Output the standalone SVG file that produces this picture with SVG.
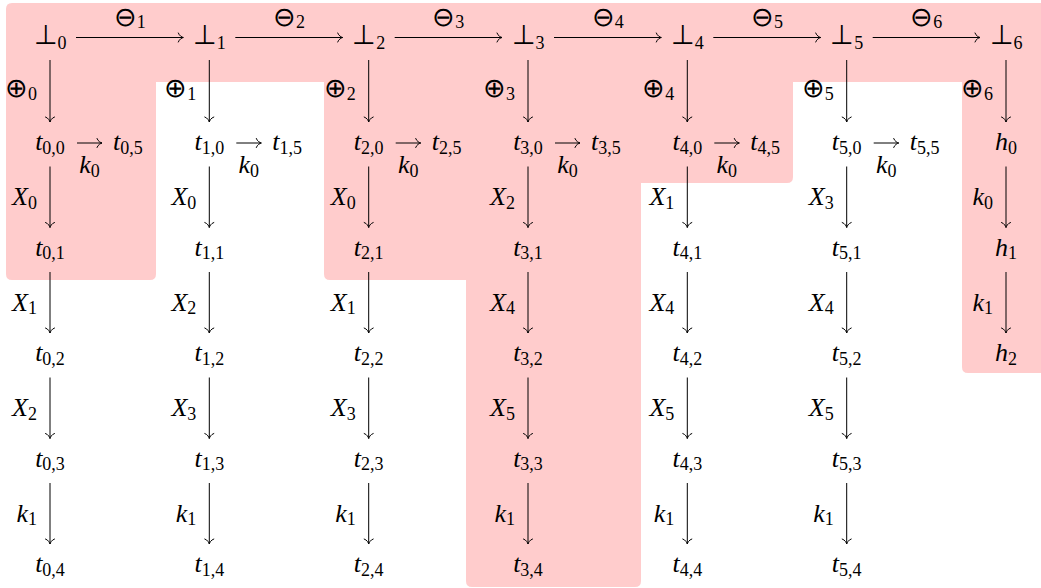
<svg xmlns="http://www.w3.org/2000/svg" width="1041" height="588" viewBox="0 0 1041 588">
<style>
.m{font-family:"Liberation Serif","Times New Roman",serif;font-style:italic;font-size:26px;fill:#000}
.s{font-style:normal;font-size:18px}
.sym{font-family:"DejaVu Sans",sans-serif;font-style:normal;font-weight:200;font-size:27px}
.c{text-anchor:middle}
.e{text-anchor:end}
.ln{stroke:#000;stroke-width:1;fill:none;marker-end:url(#arr)}
</style>
<defs>
<marker id="arr" viewBox="-7 -6 8 12" refX="0" refY="0" markerWidth="8" markerHeight="12" orient="auto" markerUnits="userSpaceOnUse">
<path d="M-5,-4.5 C-4,-1.5 -1.2,-0.4 0,0 C-1.2,0.4 -4,1.5 -5,4.5" fill="none" stroke="#000" stroke-width="1" stroke-linecap="round"/>
</marker>
</defs>
<rect width="1041" height="588" fill="#fff"/>
<path id="highlight" fill="#ffcccc" d="M6,9 Q6,3 12,3 H1046 V373 H968 Q962,373 962,367 V82 H793 V177 Q793,183 787,183 H641 V581 Q641,587 635,587 H472 Q466,587 466,581 V280 H330 Q324,280 324,274 V82 H156 V274 Q156,280 150,280 H12 Q6,280 6,274 Z"/>

<g id="connectors">
<line class="ln" x1="76" y1="37.5" x2="183.3" y2="37.5"/>
<line class="ln" x1="235.3" y1="37.5" x2="342.7" y2="37.5"/>
<line class="ln" x1="394.7" y1="37.5" x2="502" y2="37.5"/>
<line class="ln" x1="554" y1="37.5" x2="661.3" y2="37.5"/>
<line class="ln" x1="713.3" y1="37.5" x2="820.7" y2="37.5"/>
<line class="ln" x1="872.7" y1="37.5" x2="980" y2="37.5"/>
<text class="m c" x="129.7" y="26"><tspan class="sym">⊖</tspan><tspan class="s" dy="2">1</tspan></text>
<text class="m c" x="289" y="26"><tspan class="sym">⊖</tspan><tspan class="s" dy="2">2</tspan></text>
<text class="m c" x="448.3" y="26"><tspan class="sym">⊖</tspan><tspan class="s" dy="2">3</tspan></text>
<text class="m c" x="607.7" y="26"><tspan class="sym">⊖</tspan><tspan class="s" dy="2">4</tspan></text>
<text class="m c" x="767" y="26"><tspan class="sym">⊖</tspan><tspan class="s" dy="2">5</tspan></text>
<text class="m c" x="926.3" y="26"><tspan class="sym">⊖</tspan><tspan class="s" dy="2">6</tspan></text>

<line class="ln" x1="77" y1="143" x2="102" y2="143"/>
<line class="ln" x1="236.3" y1="143" x2="261.3" y2="143"/>
<line class="ln" x1="395.7" y1="143" x2="420.7" y2="143"/>
<line class="ln" x1="555" y1="143" x2="580" y2="143"/>
<line class="ln" x1="714.3" y1="143" x2="739.3" y2="143"/>
<line class="ln" x1="873.7" y1="143" x2="898.7" y2="143"/>
<text class="m c" x="89.5" y="173">k<tspan class="s" dy="3.5">0</tspan></text>
<text class="m c" x="248.8" y="173">k<tspan class="s" dy="3.5">0</tspan></text>
<text class="m c" x="408.2" y="173">k<tspan class="s" dy="3.5">0</tspan></text>
<text class="m c" x="567.5" y="173">k<tspan class="s" dy="3.5">0</tspan></text>
<text class="m c" x="726.8" y="173">k<tspan class="s" dy="3.5">0</tspan></text>
<text class="m c" x="886.2" y="173">k<tspan class="s" dy="3.5">0</tspan></text>

<!-- column 0 -->
<line class="ln" x1="50" y1="60" x2="50" y2="122"/>
<line class="ln" x1="50" y1="166.5" x2="50" y2="227.5"/>
<line class="ln" x1="50" y1="272" x2="50" y2="333"/>
<line class="ln" x1="50" y1="377.5" x2="50" y2="438.5"/>
<line class="ln" x1="50" y1="483" x2="50" y2="544"/>
<text class="m e" x="37" y="97"><tspan class="sym">⊕</tspan><tspan class="s" dy="3">0</tspan></text>
<text class="m e" x="37" y="205">X<tspan class="s" dy="3.5">0</tspan></text>
<text class="m e" x="37" y="310.5">X<tspan class="s" dy="3.5">1</tspan></text>
<text class="m e" x="37" y="416">X<tspan class="s" dy="3.5">2</tspan></text>
<text class="m e" x="37" y="521.5">k<tspan class="s" dy="3.5">1</tspan></text>
<!-- column 1 -->
<line class="ln" x1="209.3" y1="60" x2="209.3" y2="122"/>
<line class="ln" x1="209.3" y1="166.5" x2="209.3" y2="227.5"/>
<line class="ln" x1="209.3" y1="272" x2="209.3" y2="333"/>
<line class="ln" x1="209.3" y1="377.5" x2="209.3" y2="438.5"/>
<line class="ln" x1="209.3" y1="483" x2="209.3" y2="544"/>
<text class="m e" x="196.3" y="97"><tspan class="sym">⊕</tspan><tspan class="s" dy="3">1</tspan></text>
<text class="m e" x="196.3" y="205">X<tspan class="s" dy="3.5">0</tspan></text>
<text class="m e" x="196.3" y="310.5">X<tspan class="s" dy="3.5">2</tspan></text>
<text class="m e" x="196.3" y="416">X<tspan class="s" dy="3.5">3</tspan></text>
<text class="m e" x="196.3" y="521.5">k<tspan class="s" dy="3.5">1</tspan></text>
<!-- column 2 -->
<line class="ln" x1="368.7" y1="60" x2="368.7" y2="122"/>
<line class="ln" x1="368.7" y1="166.5" x2="368.7" y2="227.5"/>
<line class="ln" x1="368.7" y1="272" x2="368.7" y2="333"/>
<line class="ln" x1="368.7" y1="377.5" x2="368.7" y2="438.5"/>
<line class="ln" x1="368.7" y1="483" x2="368.7" y2="544"/>
<text class="m e" x="355.7" y="97"><tspan class="sym">⊕</tspan><tspan class="s" dy="3">2</tspan></text>
<text class="m e" x="355.7" y="205">X<tspan class="s" dy="3.5">0</tspan></text>
<text class="m e" x="355.7" y="310.5">X<tspan class="s" dy="3.5">1</tspan></text>
<text class="m e" x="355.7" y="416">X<tspan class="s" dy="3.5">3</tspan></text>
<text class="m e" x="355.7" y="521.5">k<tspan class="s" dy="3.5">1</tspan></text>
<!-- column 3 -->
<line class="ln" x1="528" y1="60" x2="528" y2="122"/>
<line class="ln" x1="528" y1="166.5" x2="528" y2="227.5"/>
<line class="ln" x1="528" y1="272" x2="528" y2="333"/>
<line class="ln" x1="528" y1="377.5" x2="528" y2="438.5"/>
<line class="ln" x1="528" y1="483" x2="528" y2="544"/>
<text class="m e" x="515" y="97"><tspan class="sym">⊕</tspan><tspan class="s" dy="3">3</tspan></text>
<text class="m e" x="515" y="205">X<tspan class="s" dy="3.5">2</tspan></text>
<text class="m e" x="515" y="310.5">X<tspan class="s" dy="3.5">4</tspan></text>
<text class="m e" x="515" y="416">X<tspan class="s" dy="3.5">5</tspan></text>
<text class="m e" x="515" y="521.5">k<tspan class="s" dy="3.5">1</tspan></text>
<!-- column 4 -->
<line class="ln" x1="687.3" y1="60" x2="687.3" y2="122"/>
<line class="ln" x1="687.3" y1="166.5" x2="687.3" y2="227.5"/>
<line class="ln" x1="687.3" y1="272" x2="687.3" y2="333"/>
<line class="ln" x1="687.3" y1="377.5" x2="687.3" y2="438.5"/>
<line class="ln" x1="687.3" y1="483" x2="687.3" y2="544"/>
<text class="m e" x="674.3" y="97"><tspan class="sym">⊕</tspan><tspan class="s" dy="3">4</tspan></text>
<text class="m e" x="674.3" y="205">X<tspan class="s" dy="3.5">1</tspan></text>
<text class="m e" x="674.3" y="310.5">X<tspan class="s" dy="3.5">4</tspan></text>
<text class="m e" x="674.3" y="416">X<tspan class="s" dy="3.5">5</tspan></text>
<text class="m e" x="674.3" y="521.5">k<tspan class="s" dy="3.5">1</tspan></text>
<!-- column 5 -->
<line class="ln" x1="846.7" y1="60" x2="846.7" y2="122"/>
<line class="ln" x1="846.7" y1="166.5" x2="846.7" y2="227.5"/>
<line class="ln" x1="846.7" y1="272" x2="846.7" y2="333"/>
<line class="ln" x1="846.7" y1="377.5" x2="846.7" y2="438.5"/>
<line class="ln" x1="846.7" y1="483" x2="846.7" y2="544"/>
<text class="m e" x="833.7" y="97"><tspan class="sym">⊕</tspan><tspan class="s" dy="3">5</tspan></text>
<text class="m e" x="833.7" y="205">X<tspan class="s" dy="3.5">3</tspan></text>
<text class="m e" x="833.7" y="310.5">X<tspan class="s" dy="3.5">4</tspan></text>
<text class="m e" x="833.7" y="416">X<tspan class="s" dy="3.5">5</tspan></text>
<text class="m e" x="833.7" y="521.5">k<tspan class="s" dy="3.5">1</tspan></text>
<!-- column 6 -->
<line class="ln" x1="1006" y1="60" x2="1006" y2="122"/>
<line class="ln" x1="1006" y1="166.5" x2="1006" y2="227.5"/>
<line class="ln" x1="1006" y1="272" x2="1006" y2="333"/>
<text class="m e" x="993" y="97"><tspan class="sym">⊕</tspan><tspan class="s" dy="3">6</tspan></text>
<text class="m e" x="993" y="205">k<tspan class="s" dy="3.5">0</tspan></text>
<text class="m e" x="993" y="310.5">k<tspan class="s" dy="3.5">1</tspan></text>
</g>

<g id="bot0"><text class="m c" x="50" y="44"><tspan class="sym">⊥</tspan><tspan class="s" dy="5">0</tspan></text></g>
<g id="bot1"><text class="m c" x="209.3" y="44"><tspan class="sym">⊥</tspan><tspan class="s" dy="5">1</tspan></text></g>
<g id="bot2"><text class="m c" x="368.7" y="44"><tspan class="sym">⊥</tspan><tspan class="s" dy="5">2</tspan></text></g>
<g id="bot3"><text class="m c" x="528" y="44"><tspan class="sym">⊥</tspan><tspan class="s" dy="5">3</tspan></text></g>
<g id="bot4"><text class="m c" x="687.3" y="44"><tspan class="sym">⊥</tspan><tspan class="s" dy="5">4</tspan></text></g>
<g id="bot5"><text class="m c" x="846.7" y="44"><tspan class="sym">⊥</tspan><tspan class="s" dy="5">5</tspan></text></g>
<g id="bot6"><text class="m c" x="1006" y="44"><tspan class="sym">⊥</tspan><tspan class="s" dy="5">6</tspan></text></g>

<g id="t00"><text class="m c" x="50" y="150">t<tspan class="s" dy="3.5">0,0</tspan></text></g>
<g id="t05"><text class="m" x="113" y="150">t<tspan class="s" dy="3.5">0,5</tspan></text></g>
<g id="t01"><text class="m c" x="50" y="255.5">t<tspan class="s" dy="3.5">0,1</tspan></text></g>
<g id="t02"><text class="m c" x="50" y="361">t<tspan class="s" dy="3.5">0,2</tspan></text></g>
<g id="t03"><text class="m c" x="50" y="466.5">t<tspan class="s" dy="3.5">0,3</tspan></text></g>
<g id="t04"><text class="m c" x="50" y="572">t<tspan class="s" dy="3.5">0,4</tspan></text></g>

<g id="t10"><text class="m c" x="209.3" y="150">t<tspan class="s" dy="3.5">1,0</tspan></text></g>
<g id="t15"><text class="m" x="272.3" y="150">t<tspan class="s" dy="3.5">1,5</tspan></text></g>
<g id="t11"><text class="m c" x="209.3" y="255.5">t<tspan class="s" dy="3.5">1,1</tspan></text></g>
<g id="t12"><text class="m c" x="209.3" y="361">t<tspan class="s" dy="3.5">1,2</tspan></text></g>
<g id="t13"><text class="m c" x="209.3" y="466.5">t<tspan class="s" dy="3.5">1,3</tspan></text></g>
<g id="t14"><text class="m c" x="209.3" y="572">t<tspan class="s" dy="3.5">1,4</tspan></text></g>

<g id="t20"><text class="m c" x="368.7" y="150">t<tspan class="s" dy="3.5">2,0</tspan></text></g>
<g id="t25"><text class="m" x="431.7" y="150">t<tspan class="s" dy="3.5">2,5</tspan></text></g>
<g id="t21"><text class="m c" x="368.7" y="255.5">t<tspan class="s" dy="3.5">2,1</tspan></text></g>
<g id="t22"><text class="m c" x="368.7" y="361">t<tspan class="s" dy="3.5">2,2</tspan></text></g>
<g id="t23"><text class="m c" x="368.7" y="466.5">t<tspan class="s" dy="3.5">2,3</tspan></text></g>
<g id="t24"><text class="m c" x="368.7" y="572">t<tspan class="s" dy="3.5">2,4</tspan></text></g>

<g id="t30"><text class="m c" x="528" y="150">t<tspan class="s" dy="3.5">3,0</tspan></text></g>
<g id="t35"><text class="m" x="591" y="150">t<tspan class="s" dy="3.5">3,5</tspan></text></g>
<g id="t31"><text class="m c" x="528" y="255.5">t<tspan class="s" dy="3.5">3,1</tspan></text></g>
<g id="t32"><text class="m c" x="528" y="361">t<tspan class="s" dy="3.5">3,2</tspan></text></g>
<g id="t33"><text class="m c" x="528" y="466.5">t<tspan class="s" dy="3.5">3,3</tspan></text></g>
<g id="t34"><text class="m c" x="528" y="572">t<tspan class="s" dy="3.5">3,4</tspan></text></g>

<g id="t40"><text class="m c" x="687.3" y="150">t<tspan class="s" dy="3.5">4,0</tspan></text></g>
<g id="t45"><text class="m" x="750.3" y="150">t<tspan class="s" dy="3.5">4,5</tspan></text></g>
<g id="t41"><text class="m c" x="687.3" y="255.5">t<tspan class="s" dy="3.5">4,1</tspan></text></g>
<g id="t42"><text class="m c" x="687.3" y="361">t<tspan class="s" dy="3.5">4,2</tspan></text></g>
<g id="t43"><text class="m c" x="687.3" y="466.5">t<tspan class="s" dy="3.5">4,3</tspan></text></g>
<g id="t44"><text class="m c" x="687.3" y="572">t<tspan class="s" dy="3.5">4,4</tspan></text></g>

<g id="t50"><text class="m c" x="846.7" y="150">t<tspan class="s" dy="3.5">5,0</tspan></text></g>
<g id="t55"><text class="m" x="909.7" y="150">t<tspan class="s" dy="3.5">5,5</tspan></text></g>
<g id="t51"><text class="m c" x="846.7" y="255.5">t<tspan class="s" dy="3.5">5,1</tspan></text></g>
<g id="t52"><text class="m c" x="846.7" y="361">t<tspan class="s" dy="3.5">5,2</tspan></text></g>
<g id="t53"><text class="m c" x="846.7" y="466.5">t<tspan class="s" dy="3.5">5,3</tspan></text></g>
<g id="t54"><text class="m c" x="846.7" y="572">t<tspan class="s" dy="3.5">5,4</tspan></text></g>

<g id="h0"><text class="m c" x="1006" y="150">h<tspan class="s" dy="3.5">0</tspan></text></g>
<g id="h1"><text class="m c" x="1006" y="255.5">h<tspan class="s" dy="3.5">1</tspan></text></g>
<g id="h2"><text class="m c" x="1006" y="361">h<tspan class="s" dy="3.5">2</tspan></text></g>
</svg>
